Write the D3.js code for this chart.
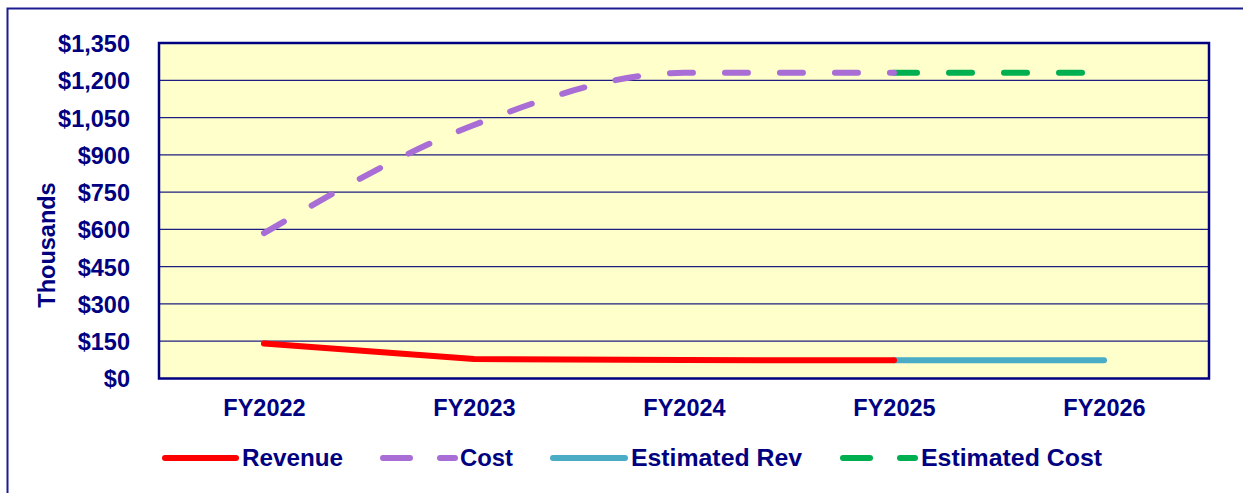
<!DOCTYPE html>
<html>
<head>
<meta charset="utf-8">
<script src="https://cdn.jsdelivr.net/npm/d3@7"></script>
<style>
    body { margin: 0; background: #fff; }
    svg { display: block; }
    text { font-family: "Liberation Sans", Arial, sans-serif; font-weight: bold; fill: #000080; }
</style>
</head>
<body>
<svg id="chart" width="1243" height="493"></svg>
<script>
// Chart data (values in thousands).
const years = ["FY2022", "FY2023", "FY2024", "FY2025", "FY2026"];
const revenue = [141, 78, 74, 73, null];
const cost = [585, 1020, 1230, 1230, null];
const estimatedRev = [null, null, null, 73, 73];
const estimatedCost = [null, null, null, 1230, 1230];
const yTicks = [0, 150, 300, 450, 600, 750, 900, 1050, 1200, 1350];

const svg = d3.select("#chart");

// Outer chart frame (runs off the right and bottom of the page).
svg.append("rect")
    .attr("x", 7.5).attr("y", 8.5)
    .attr("width", 1400).attr("height", 600)
    .attr("fill", "none")
    .attr("stroke", "#1c1c90")
    .attr("stroke-width", 2);

const plot = { left: 159, top: 43, right: 1209, bottom: 378.5 };

const x = d3.scalePoint()
    .domain(years)
    .range([plot.left, plot.right])
    .padding(0.5);

const y = d3.scaleLinear()
    .domain([0, 1350])
    .range([plot.bottom, plot.top]);

// Plot background.
svg.append("rect")
    .attr("x", plot.left).attr("y", plot.top)
    .attr("width", plot.right - plot.left)
    .attr("height", plot.bottom - plot.top)
    .attr("fill", "#FFFFCC");

// Gridlines.
svg.append("g")
    .selectAll("line")
    .data(yTicks.filter((d) => d > 0 && d < 1350))
    .join("line")
    .attr("x1", plot.left).attr("x2", plot.right)
    .attr("y1", (d) => y(d)).attr("y2", (d) => y(d))
    .attr("stroke", "#1e1e80")
    .attr("stroke-width", 1.2);

// Y axis labels.
const yAxis = svg.append("g")
    .attr("transform", `translate(${plot.left}, 0)`)
    .call(d3.axisLeft(y)
        .tickValues(yTicks)
        .tickSize(0)
        .tickPadding(29)
        .tickFormat((d) => "$" + d3.format(",")(d)));
yAxis.select(".domain").remove();
yAxis.selectAll("text")
    .attr("font-size", "23.5px")
    .attr("fill", "#000080")
    .attr("font-family", "Liberation Sans, Arial, sans-serif")
    .attr("font-weight", "bold")
    .attr("dy", "0.36em");

// X axis labels.
const xAxis = svg.append("g")
    .attr("transform", `translate(0, ${plot.bottom})`)
    .call(d3.axisBottom(x).tickSize(0).tickPadding(0));
xAxis.select(".domain").remove();
xAxis.selectAll("text")
    .attr("font-size", "23.5px")
    .attr("fill", "#000080")
    .attr("font-family", "Liberation Sans, Arial, sans-serif")
    .attr("font-weight", "bold")
    .attr("y", 37)
    .attr("dy", 0);

// Y axis title.
svg.append("text")
    .attr("transform", "translate(55, 245) rotate(-90)")
    .attr("text-anchor", "middle")
    .attr("font-size", "23.5px")
    .text("Thousands");

// Series lines.
const series = [
    { name: "Revenue", values: revenue, color: "#FF0000", dash: null, curve: d3.curveLinear },
    { name: "Cost", values: cost, color: "#A86ED6", dash: "23,32", curve: d3.curveMonotoneX },
    { name: "Estimated Rev", values: estimatedRev, color: "#4BACC6", dash: null, curve: d3.curveLinear },
    { name: "Estimated Cost", values: estimatedCost, color: "#00B050", dash: "23,32", curve: d3.curveLinear }
];

// Draw estimated first so the actuals overlap them at FY2025.
[series[2], series[3], series[0], series[1]].forEach((s) => {

    const line = d3.line()
        .defined((d) => d !== null)
        .x((d, i) => x(years[i]))
        .y((d) => y(d))
        .curve(s.curve);

    svg.append("path")
        .datum(s.values)
        .attr("d", line)
        .attr("fill", "none")
        .attr("stroke", s.color)
        .attr("stroke-width", 6)
        .attr("stroke-linecap", "round")
        .attr("stroke-linejoin", "round")
        .attr("stroke-dasharray", s.dash);
});

// Plot border.
svg.append("rect")
    .attr("x", plot.left).attr("y", plot.top)
    .attr("width", plot.right - plot.left)
    .attr("height", plot.bottom - plot.top)
    .attr("fill", "none")
    .attr("stroke", "#000080")
    .attr("stroke-width", 2.5);

// Legend.
const legendY = 458;
const legendItems = [
    { s: series[0], x0: 165, x1: 236, tx: 242, w: 101 },
    { s: series[1], x0: 383, x1: 455, tx: 460, w: 53 },
    { s: series[2], x0: 553, x1: 625, tx: 631, w: 171 },
    { s: series[3], x0: 843, x1: 915, tx: 921, w: 181 }
];

legendItems.forEach((item) => {

    const g = svg.append("g");
    if (item.s.dash) {

        // Two short dashes, like the spreadsheet legend.
        g.append("line")
            .attr("x1", item.x0).attr("x2", item.x0 + 27)
            .attr("y1", legendY).attr("y2", legendY)
            .attr("stroke", item.s.color).attr("stroke-width", 6)
            .attr("stroke-linecap", "round");
        g.append("line")
            .attr("x1", item.x1 - 15).attr("x2", item.x1)
            .attr("y1", legendY).attr("y2", legendY)
            .attr("stroke", item.s.color).attr("stroke-width", 6)
            .attr("stroke-linecap", "round");
    } else {

        g.append("line")
            .attr("x1", item.x0).attr("x2", item.x1)
            .attr("y1", legendY).attr("y2", legendY)
            .attr("stroke", item.s.color).attr("stroke-width", 6)
            .attr("stroke-linecap", "round");
    }
    g.append("text")
        .attr("x", item.tx)
        .attr("y", legendY + 8)
        .attr("font-size", "24px")
        .attr("textLength", item.w)
        .attr("lengthAdjust", "spacingAndGlyphs")
        .text(item.s.name);
});
</script>
</body>
</html>
